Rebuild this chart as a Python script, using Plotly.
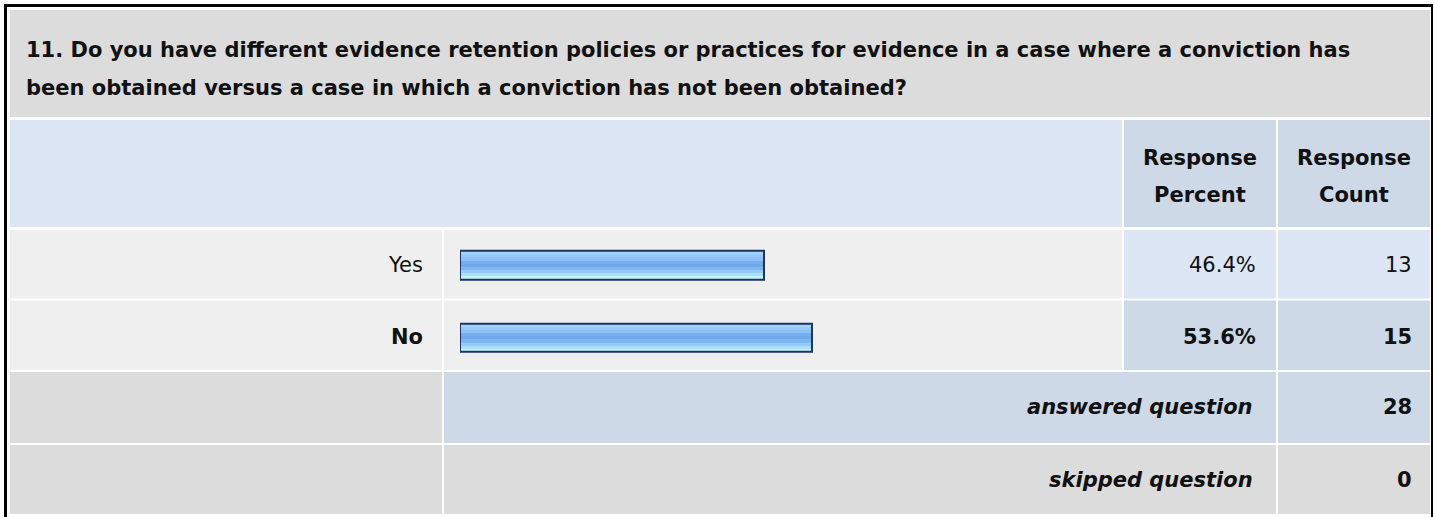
import plotly.graph_objects as go

# ---------------- data ----------------
question_lines = ["11. Do you have different evidence retention policies or practices for evidence in a case where a conviction has",
                  "been obtained versus a case in which a conviction has not been obtained?"]
answer_options = ["Yes", "No"]
response_percent = [46.4, 53.6]
response_count = [13, 15]
answered_question = 28
skipped_question = 0
header_percent = ["Response", "Percent"]
header_count = ["Response", "Count"]

# ---------------- layout helpers ----------------
W, H = 1434, 517
FONT = "DejaVu Sans, Arial, sans-serif"
FS = 21


def px(x):
    return x / W


def py(y):
    return 1 - y / H


shapes = []


def rect(x0, y0, x1, y1, color):
    shapes.append(dict(type="rect", xref="paper", yref="paper",
                       x0=px(x0), x1=px(x1), y0=py(y1), y1=py(y0),
                       fillcolor=color, line=dict(width=0), layer="below"))


TITLE_BG = "#dcdcdc"
HEAD_BG = "#dce6f4"
HEAD_COL_BG = "#cdd9e6"
ROW_BG = "#efefef"
VAL_LIGHT = "#dce6f4"
VAL_DARK = "#cdd9e6"

# outer frame
rect(4, 4, 1433, 7, "#000000")
rect(4, 4, 7, 517, "#000000")
rect(1431, 4, 1433, 517, "#000000")

# title cell
rect(10, 10, 1430, 117, TITLE_BG)
# header row
rect(10, 120, 1122, 227, HEAD_BG)
rect(1124, 120, 1276, 227, HEAD_COL_BG)
rect(1278, 120, 1430, 227, HEAD_COL_BG)
# answer rows
row_y = [(230, 298.5), (300.5, 370)]
val_bg = [VAL_LIGHT, VAL_DARK]
for (y0, y1), bg in zip(row_y, val_bg):
    rect(10, y0, 442, y1, ROW_BG)
    rect(444, y0, 1122, y1, ROW_BG)
    rect(1124, y0, 1276, y1, bg)
    rect(1278, y0, 1430, y1, bg)
# answered row
rect(10, 372, 442, 443, TITLE_BG)
rect(444, 372, 1276, 443, VAL_DARK)
rect(1278, 372, 1430, 443, VAL_DARK)
# skipped row
rect(10, 445, 442, 514, TITLE_BG)
rect(444, 445, 1276, 514, TITLE_BG)
rect(1278, 445, 1430, 514, TITLE_BG)

annotations = []


def text(x, y, s, anchor="right", bold=False, italic=False):
    annotations.append(dict(xref="paper", yref="paper", x=px(x), y=py(y), text=s,
                            showarrow=False, xanchor=anchor, yanchor="middle", align=anchor,
                            font=dict(family=FONT, size=FS, color="#111111",
                                      weight="bold" if bold else "normal",
                                      style="italic" if italic else "normal")))


text(24, 50, question_lines[0], anchor="left", bold=True)
text(24, 88, question_lines[1], anchor="left", bold=True)

text(1200, 158, header_percent[0], anchor="center", bold=True)
text(1200, 195, header_percent[1], anchor="center", bold=True)
text(1354, 158, header_count[0], anchor="center", bold=True)
text(1354, 195, header_count[1], anchor="center", bold=True)

row_centers = [265, 337]
for i, (lab, p, c) in enumerate(zip(answer_options, response_percent, response_count)):
    b = (i == 1)
    text(425, row_centers[i], lab, bold=b)
    text(1258, row_centers[i], f"{p:.1f}%", bold=b)
    text(1414, row_centers[i], str(c), bold=b)

text(1255, 407, "answered question", bold=True, italic=True)
text(1414, 407, str(answered_question), bold=True)
text(1255, 480, "skipped question", bold=True, italic=True)
text(1414, 480, str(skipped_question), bold=True)

# ---------------- bars ----------------
stripe_colors = ["#a3d2ff", "#97c9fc", "#8cc0f7", "#76aeee", "#6ea7ea",
                 "#7db6f1", "#93caf7", "#aae0fb", "#c4f6ff"]
BW = 0.393
n = len(stripe_colors)
ypos = list(range(len(answer_options)))

fig = go.Figure()
for i, col in enumerate(stripe_colors):
    fig.add_trace(go.Bar(x=response_percent, y=ypos, orientation="h",
                         width=BW / n, offset=-BW / 2 + i * BW / n,
                         marker=dict(color=col, line=dict(width=0)),
                         hoverinfo="skip", showlegend=False))
fig.add_trace(go.Bar(x=response_percent, y=ypos, orientation="h",
                     width=BW, offset=-BW / 2,
                     marker=dict(color="rgba(0,0,0,0)", line=dict(color="#1d3560", width=2)),
                     customdata=answer_options,
                     hovertemplate="%{customdata}: %{x:.1f}%<extra></extra>",
                     showlegend=False))

fig.update_layout(
    width=W, height=H, margin=dict(l=0, r=0, t=0, b=0),
    paper_bgcolor="#ffffff", plot_bgcolor="rgba(0,0,0,0)",
    barmode="overlay", bargap=0,
    shapes=shapes, annotations=annotations,
    xaxis=dict(domain=[px(460), px(1116)], range=[0, 100], visible=False, fixedrange=True),
    yaxis=dict(domain=[py(373.75), py(228.75)], range=[1.5, -0.5], visible=False, fixedrange=True),
    showlegend=False,
)

fig.write_html("out.html",
               config={"displayModeBar": False},
               post_script="document.body.style.margin='0';document.body.style.overflow='hidden';")
